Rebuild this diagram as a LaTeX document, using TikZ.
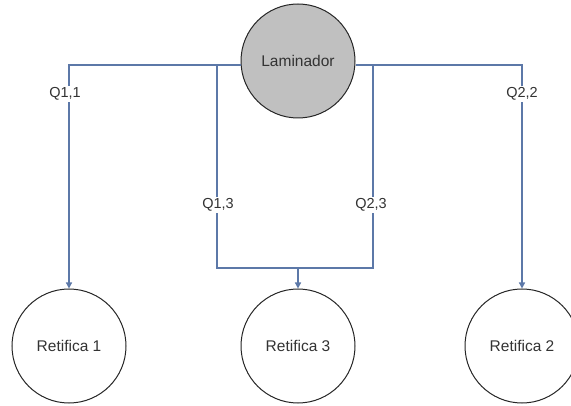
\documentclass[tikz,border=0pt]{standalone}
\usepackage{fontspec}
\setmainfont{Liberation Sans}
\usetikzlibrary{arrows.meta}
\definecolor{flow}{RGB}{92,120,168}
\definecolor{machine}{RGB}{192,192,192}
\tikzset{
  station/.style={circle, draw=black!85, line width=1pt, minimum size=114pt, inner sep=0pt,
    font=\fontsize{15.5}{18}\selectfont, text=black!80},
  flowline/.style={draw=flow, line width=1.3pt},
  flowarrow/.style={flowline, -{Triangle[length=6pt,width=6pt]}},
  qlabel/.style={fill=white, inner sep=1.5pt, font=\fontsize{14.5}{17}\selectfont, text=black!80}
}
\begin{document}
\begin{tikzpicture}[x=1pt,y=-1pt]
  \useasboundingbox (0,0) rectangle (571,406);

  % machines
  \node[station, fill=machine] (lam) at (298,61) {Laminador};
  \node[station, fill=white] (r1) at (69,346) {Retifica 1};
  \node[station, fill=white] (r3) at (298,346) {Retifica 3};
  \node[station, fill=white] (r2) at (522,346) {Retifica 2};

  % branch points of the distribution lines
  \coordinate (top) at (298,65);
  \coordinate (j1) at (217,65);
  \coordinate (j2) at (373,65);
  \coordinate (merge) at (298,268);

  % outer flows to Retifica 1 and Retifica 2
  \draw[flowarrow] (lam.west |- top) -| (r1.north);
  \draw[flowarrow] (lam.east |- top) -| (r2.north);

  % inner flows merging into Retifica 3
  \draw[flowline] (j1) |- (merge);
  \draw[flowline] (j2) |- (merge);
  \draw[flowarrow] (merge) -- (r3.north);

  % flow labels
  \node[qlabel] (q11) at (65,94) {Q1,1};
  \node[qlabel] (q22) at (522,94) {Q2,2};
  \node[qlabel] (q13) at (218,205) {Q1,3};
  \node[qlabel] (q23) at (371,205) {Q2,3};
\end{tikzpicture}
\end{document}
